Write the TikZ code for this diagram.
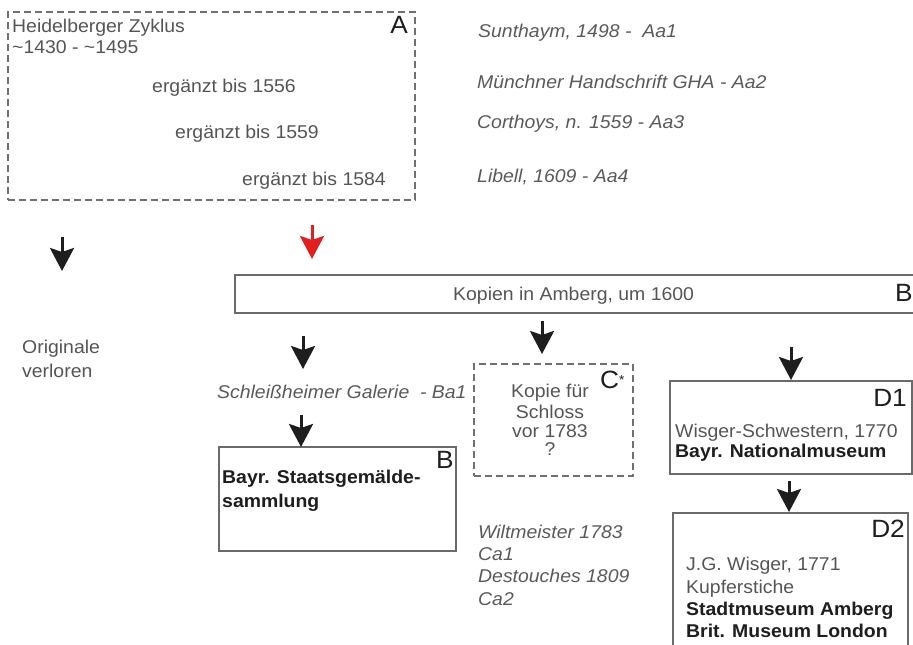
\documentclass[tikz,border=0pt]{standalone}
\usepackage{fontspec}
\setmainfont{Liberation Sans}[FakeStretch=1.05]
\usetikzlibrary{arrows.meta}
\definecolor{txtgray}{HTML}{555555}
\definecolor{itgray}{HTML}{5A5A5A}
\definecolor{bldgray}{HTML}{1E1E1E}
\definecolor{boxgray}{HTML}{6A6A6A}
\definecolor{dashgray}{HTML}{707070}
\definecolor{arrred}{HTML}{E02020}
\newcommand\fsz{\fontsize{18.5}{21}\selectfont}
\newcommand\bigsz{\fontsize{25}{25}\selectfont}
\tikzset{
  box/.style={draw=boxgray, line width=1.6pt, inner sep=0pt, anchor=north west, fill=white},
  dbox/.style={draw=dashgray, line width=1.6pt, dash pattern=on 7pt off 4pt, inner sep=0pt, anchor=north west},
  txt/.style={anchor=base west, inner sep=0pt, text=txtgray, font=\fsz},
  ctxt/.style={anchor=base, inner sep=0pt, text=txtgray, font=\fsz},
  itxt/.style={anchor=base west, inner sep=0pt, text=itgray, font=\fsz\itshape},
  btxt/.style={anchor=base west, inner sep=0pt, text=bldgray, font=\fsz\bfseries},
  bigl/.style={anchor=base west, inner sep=0pt, text=bldgray, font=\bigsz},
  arr/.style={line width=3pt, draw=bldgray, -{Stealth[width=24pt 0 0,length=23pt 0 0,inset=4pt 0,fill=bldgray]}},
}
\begin{document}
\begin{tikzpicture}[x=1pt,y=-1pt]
\useasboundingbox (0,0) rectangle (913,645);
\clip (0,0) rectangle (913,645);
\fill[white] (0,0) rectangle (913,645);

% Box A
\node[dbox, minimum width=407pt, minimum height=188pt] (boxA) at (7,11) {};
\node[txt] (heid) at (12,32) {Heidelberger Zyklus};
\node[txt] (heidd) at (12,53) {\textasciitilde 1430 - \textasciitilde 1495};
\node[bigl, anchor=base east] (lA) at (408,33) {A};
\node[txt] (e1) at (152,92) {ergänzt bis 1556};
\node[txt] (e2) at (175,138) {ergänzt bis 1559};
\node[txt] (e3) at (242,185) {ergänzt bis 1584};

% italic sources
\node[itxt] (s1) at (478,37) {Sunthaym, 1498 -\ \ Aa1};
\node[itxt] (s2) at (477,88) {Münchner Handschrift GHA - Aa2};
\node[itxt] (s3) at (477,128) {Corthoys, n. 1559 - Aa3};
\node[itxt] (s4) at (477,182) {Libell, 1609 - Aa4};

% Box Kopien
\node[box, minimum width=700pt, minimum height=38pt] (boxK) at (234,274) {};
\node[txt] (kop) at (453,300) {Kopien in Amberg, um 1600};
\node[bigl] (lB0) at (895,301) {B};

% Originale verloren
\node[txt] (or1) at (22,353) {Originale};
\node[txt] (or2) at (22,377) {verloren};

% Schleissheimer
\node[itxt] (sch) at (217,398) {Schleißheimer Galerie\ \ - Ba1};

% Box B
\node[box, minimum width=237pt, minimum height=104pt] (boxB) at (218,446) {};
\node[bigl] (lB) at (436,468) {B};
\node[btxt] (bs1) at (222,483) {Bayr. Staatsgemälde-};
\node[btxt] (bs2) at (222,507) {sammlung};

% Box C*
\node[dbox, minimum width=159pt, minimum height=112pt] (boxC) at (473,363) {};
\node[bigl] (lC) at (600,388) {C\raisebox{4pt}{\fontsize{13}{13}\selectfont *}};
\node[ctxt] (c1) at (550,397) {Kopie für};
\node[ctxt] (c2) at (550,418) {Schloss};
\node[ctxt] (c3) at (550,437) {vor 1783};
\node[ctxt] (c4) at (550,455) {?};

% Wiltmeister
\node[itxt] (w1) at (478,538) {Wiltmeister 1783};
\node[itxt] (w2) at (478,560) {Ca1};
\node[itxt] (w3) at (478,582) {Destouches 1809};
\node[itxt] (w4) at (478,605) {Ca2};

% Box D1
\node[box, minimum width=242pt, minimum height=93pt] (boxD1) at (669,380) {};
\node[bigl, anchor=base east] (lD1) at (907,406) {D1};
\node[txt] (d1a) at (675,437) {Wisger-Schwestern, 1770};
\node[btxt] (d1b) at (675,457) {Bayr. Nationalmuseum};

% Box D2
\node[box, minimum width=235pt, minimum height=150pt] (boxD2) at (672,512) {};
\node[bigl, anchor=base east] (lD2) at (905,537) {D2};
\node[txt] (d2a) at (686,570) {J.G. Wisger, 1771};
\node[txt] (d2b) at (686,593) {Kupferstiche};
\node[btxt] (d2c) at (686,615) {Stadtmuseum Amberg};
\node[btxt] (d2d) at (686,637) {Brit. Museum London};

% arrows
\coordinate (a1s) at (62,237);  \coordinate (a1e) at (62,271);
\coordinate (a2s) at (312,225); \coordinate (a2e) at (312,259);
\coordinate (a3s) at (303,336); \coordinate (a3e) at (303,369);
\coordinate (a4s) at (542,321); \coordinate (a4e) at (542,354);
\coordinate (a5s) at (791,347);
\coordinate (a6s) at (301,415); \coordinate (a6e) at (301,447);
\coordinate (a7s) at (789,481);
\draw[arr] (a1s) -- (a1e);
\draw[line width=3pt, draw=arrred, -{Stealth[width=24pt 0 0,length=23pt 0 0,inset=4pt 0,fill=arrred]}] (a2s) -- (a2e);
\draw[arr] (a3s) -- (a3e);
\draw[arr] (a4s) -- (a4e);
\draw[arr] (a5s) -- (a5s |- boxD1.north);
\draw[arr] (a6s) -- (a6e);
\draw[arr] (a7s) -- (a7s |- boxD2.north);
\end{tikzpicture}
\end{document}
